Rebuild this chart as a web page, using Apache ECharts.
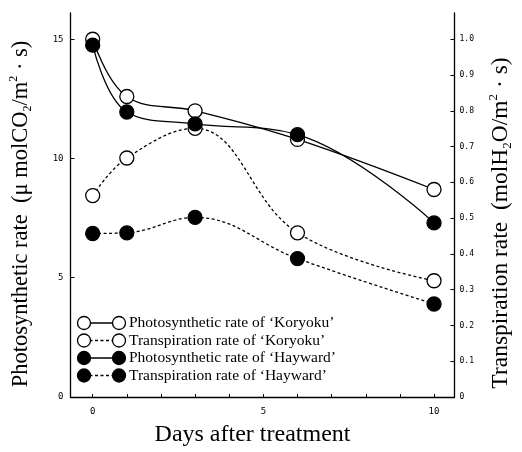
<!DOCTYPE html>
<html>
<head>
<meta charset="utf-8">
<script src="https://cdn.jsdelivr.net/npm/echarts@6/dist/echarts.min.js"></script>
<style>
html,body{margin:0;padding:0;background:#fff;}
#chart{width:522px;height:452px;}
</style>
</head>
<body>
<div id="chart"></div>
<script>
// ---- data ----
var days = [0, 1, 3, 6, 10];
var photoKoryoku = [15.0, 12.6, 12.0, 10.8, 8.7];
var photoHayward = [14.75, 11.95, 11.45, 11.0, 7.3];
var transKoryoku = [0.563, 0.668, 0.751, 0.459, 0.325];
var transHayward = [0.457, 0.459, 0.502, 0.387, 0.260];
var xTickLabels = [0, 5, 10];
var xTicks = [0,1,2,3,4,5,6,7,8,9,10];
var leftTicks = [0, 5, 10, 15];
var rightTicks = [0, 0.1, 0.2, 0.3, 0.4, 0.5, 0.6, 0.7, 0.8, 0.9, 1.0];
var legendNames = [
  "Photosynthetic rate of \u2018Koryoku\u2019",
  "Transpiration rate of \u2018Koryoku\u2019",
  "Photosynthetic rate of \u2018Hayward\u2019",
  "Transpiration rate of \u2018Hayward\u2019"
];

function pairs(xs, ys){ return xs.map(function(x,i){ return [x, ys[i]]; }); }

var serif = "Liberation Serif";
var mono = "DejaVu Sans Mono";
var chart = echarts.init(document.getElementById('chart'), null, {renderer:'canvas'});

var openMarker = {color:'#fff', borderColor:'#000', borderWidth:1.3};
var fillMarker = {color:'#000', borderColor:'#000', borderWidth:1.3};

function mkSeries(name, data, yIdx, open, dashed){
  return {
    name: name, type:'line', yAxisIndex:yIdx, data:data,
    smooth:0.4, symbol:'circle', symbolSize:14,
    showAllSymbol:true,
    itemStyle: open ? openMarker : fillMarker,
    lineStyle:{color:'#000', width:1.3, type: dashed ? [3,2.5] : 'solid'},
    z: open ? 3 : 4
  };
}

// legend graphic
var legendEls = [];
var legTop = 323, legStep = 17.5, c1 = 84, c2 = 119;
for (var i=0;i<4;i++){
  var y = legTop + i*legStep;
  var open = (i<2), dashed = (i%2===1);
  legendEls.push({type:'line', shape:{x1:c1, y1:y, x2:c2, y2:y},
    style:{stroke:'#000', lineWidth:1.3, lineDash: dashed ? [3,2.5] : null}});
  [c1,c2].forEach(function(cx){
    legendEls.push({type:'circle', shape:{cx:cx, cy:y, r:6.5},
      style:{fill: open ? '#fff' : '#000', stroke:'#000', lineWidth:1.3}, z:10});
  });
  legendEls.push({type:'text', x:c2+10, y:y,
    style:{text:legendNames[i], font:'15.5px "'+serif+'"', fill:'#000', verticalAlign:'middle'}, z:10});
}

function richFor(sz){
  return {
    b:{fontFamily:serif, fontSize:sz, color:'#000'},
    s:{fontFamily:serif, fontSize:Math.round(sz*0.55), color:'#000', verticalAlign:'bottom', lineHeight:sz+3},
    u:{fontFamily:serif, fontSize:Math.round(sz*0.55), color:'#000', verticalAlign:'top', lineHeight:sz+3}
  };
}

var option = {
  animation:false,
  backgroundColor:'#fff',
  grid:{left:60, right:48, top:13, bottom:41},
  xAxis:{
    type:'value', min:-0.65, max:10.6,
    name:'Days after treatment', nameLocation:'middle', nameGap:26,
    nameTextStyle:{fontFamily:serif, fontSize:24, color:'#000', padding:[0,20,0,0]},
    axisLine:{onZero:false, lineStyle:{color:'#000', width:1.3}},
    axisTick:{show:true, inside:true, length:3, customValues:xTicks, lineStyle:{color:'#000'}},
    axisLabel:{customValues:xTickLabels, fontFamily:mono, fontSize:9, color:'#000', margin:10},
    splitLine:{show:false}
  },
  yAxis:[{
    type:'value', min:0, max:16.1, position:'left',
    name:'{b|Photosynthetic rate  (\u03bc molCO}{s|2}{b|/m}{u|2}{b| \u00b7 s)}',
    nameLocation:'middle', nameGap:37, nameRotate:90,
    nameTextStyle:{rich:richFor(22.5), padding:[0,18,0,0]},
    axisLine:{show:true, onZero:false, lineStyle:{color:'#000', width:1.3}},
    axisTick:{show:true, inside:true, length:4, customValues:leftTicks, lineStyle:{color:'#000'}},
    axisLabel:{customValues:leftTicks, fontFamily:mono, fontSize:9, color:'#000', margin:7},
    splitLine:{show:false}
  },{
    type:'value', min:0, max:16.1/15, position:'right',
    name:'{b|Transpiration rate  (molH}{s|2}{b|O/m}{u|2}{b| \u00b7 s)}',
    nameLocation:'middle', nameGap:33, nameRotate:90,
    nameTextStyle:{rich:richFor(23.5), padding:[0,36,0,0]},
    axisLine:{show:true, onZero:false, lineStyle:{color:'#000', width:1.3}},
    axisTick:{show:true, inside:true, length:4, customValues:rightTicks, lineStyle:{color:'#000'}},
    axisLabel:{customValues:rightTicks, fontFamily:mono, fontSize:8, color:'#000', margin:5,
      formatter:function(v){ return v===0 ? '0' : v.toFixed(1); }},
    splitLine:{show:false}
  }],
  graphic: legendEls,
  series:[
    mkSeries(legendNames[1], pairs(days, transKoryoku), 1, true, true),
    mkSeries(legendNames[3], pairs(days, transHayward), 1, false, true),
    mkSeries(legendNames[0], pairs(days, photoKoryoku), 0, true, false),
    mkSeries(legendNames[2], pairs(days, photoHayward), 0, false, false)
  ]
};
chart.setOption(option);
</script>
</body>
</html>
